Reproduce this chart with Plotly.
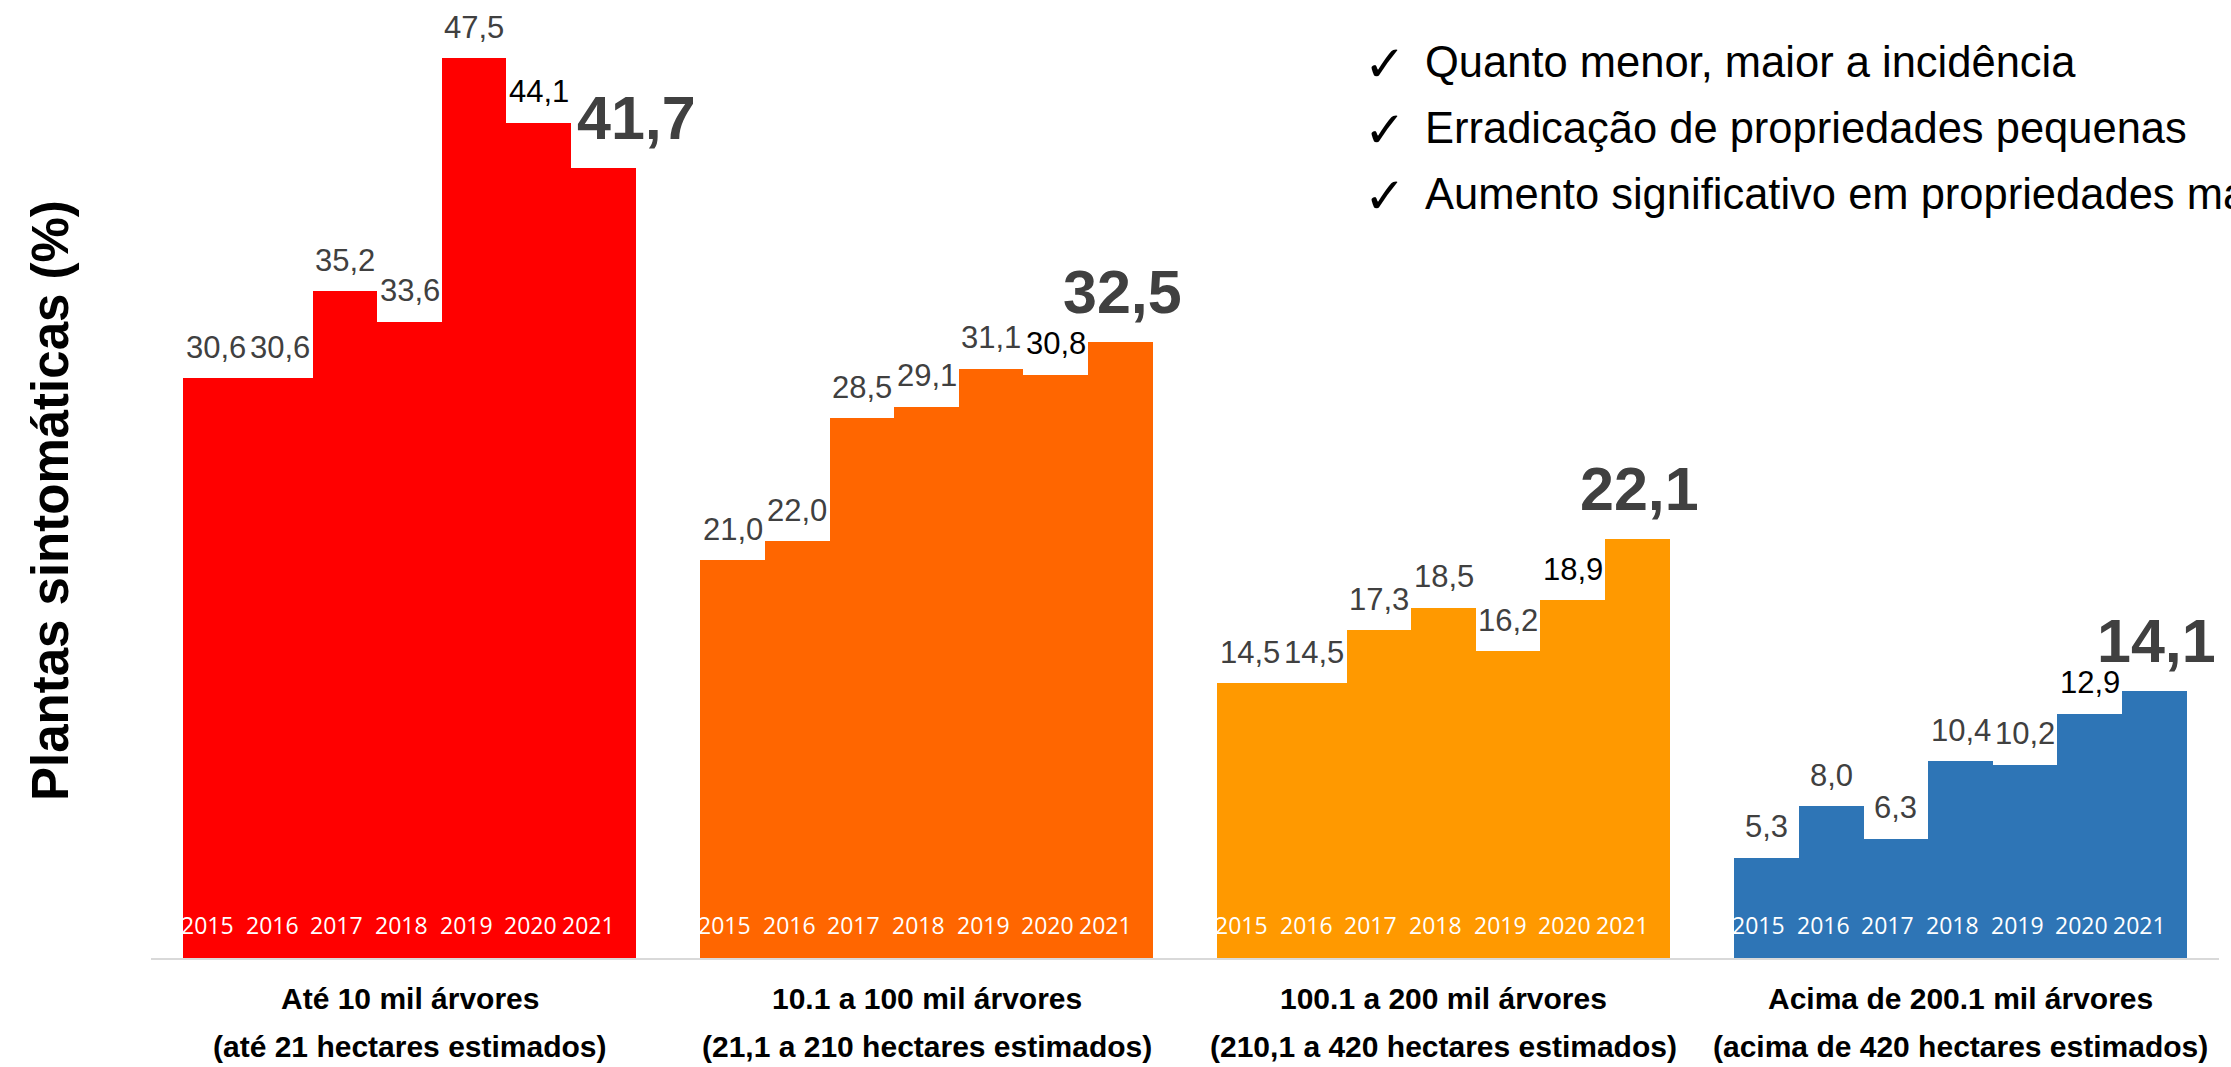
import plotly.graph_objects as go

# ---------------- data ----------------
years = ["2015", "2016", "2017", "2018", "2019", "2020", "2021"]
group_line1 = ["Até 10 mil árvores", "10.1 a 100 mil árvores",
               "100.1 a 200 mil árvores", "Acima de 200.1 mil árvores"]
group_line2 = ["(até 21 hectares estimados)", "(21,1 a 210 hectares estimados)",
               "(210,1 a 420 hectares estimados)", "(acima de 420 hectares estimados)"]
vals_g1 = [30.6, 30.6, 35.2, 33.6, 47.5, 44.1, 41.7]
vals_g2 = [21.0, 22.0, 28.5, 29.1, 31.1, 30.8, 32.5]
vals_g3 = [14.5, 14.5, 17.3, 18.5, 16.2, 18.9, 22.1]
vals_g4 = [5.3, 8.0, 6.3, 10.4, 10.2, 12.9, 14.1]
group_values = [vals_g1, vals_g2, vals_g3, vals_g4]
group_colors = ["#FF0000", "#FF6600", "#FF9900", "#2E75B6"]
y_title = "Plantas sintomáticas (%)"
notes = ["Quanto menor, maior a incidência",
         "Erradicação de propriedades pequenas",
         "Aumento significativo em propriedades maiores"]

# ---------------- layout constants ----------------
W, H = 2231, 1067
ML, MR, MT, MB = 151, 12, 0, 109
PW, PH = W - ML - MR, H - MT - MB
PX_PER_UNIT = 18.94
YMAX = PH / PX_PER_UNIT

SANS = "Liberation Sans, Arial, sans-serif"
YEARF = "Open Sans, Lato, sans-serif"
GRAY = "#404040"


def paper_x(px):
    return (px - ML) / PW


def paper_y(py):
    return (MT + PH - py) / PH


def fmt(v):
    return f"{v:.1f}".replace(".", ",")


fig = go.Figure()
annotations = []

for g, vals in enumerate(group_values):
    xs = [g * 8 + j for j in range(len(years))]
    fig.add_trace(go.Bar(
        x=xs, y=vals, width=1.0,
        marker=dict(color=group_colors[g], line=dict(width=0)),
        hoverinfo="skip", showlegend=False,
    ))
    n = len(years)
    for j, (x, v) in enumerate(zip(xs, vals)):
        last = j == n - 1
        if last:
            annotations.append(dict(
                x=x, y=v, xref="x", yref="y", text=fmt(v), showarrow=False,
                xanchor="center", yanchor="middle", yshift=50,
                xshift=33 if g == 0 else 2,
                font=dict(family=SANS, size=61, color=GRAY, weight="bold"),
            ))
        else:
            color = "#000000" if j == n - 2 else GRAY
            annotations.append(dict(
                x=x, y=v, xref="x", yref="y", text=fmt(v), showarrow=False,
                xanchor="center", yanchor="middle", yshift=31,
                font=dict(family=SANS, size=31, color=color),
            ))
        # year label inside bar
        annotations.append(dict(
            x=x, y=0, xref="x", yref="y", text=years[j], showarrow=False,
            xanchor="center", yanchor="middle", yshift=33,
            xshift=-15 if last else -8,
            font=dict(family=YEARF, size=23, color="#FFFFFF"),
        ))
    xc = g * 8 + (n - 1) / 2
    annotations.append(dict(
        x=xc, y=0, xref="x", yref="y", text=group_line1[g], showarrow=False,
        xanchor="center", yanchor="middle", yshift=-40,
        font=dict(family=SANS, size=30, color="#000000", weight="bold"),
    ))
    annotations.append(dict(
        x=xc, y=0, xref="x", yref="y", text=group_line2[g], showarrow=False,
        xanchor="center", yanchor="middle", yshift=-88,
        font=dict(family=SANS, size=30, color="#000000", weight="bold"),
    ))

# y-axis title
annotations.append(dict(
    x=paper_x(50), y=paper_y(501), xref="paper", yref="paper",
    text=y_title, showarrow=False, textangle=-90,
    xanchor="center", yanchor="middle",
    font=dict(family=SANS, size=51, color="#000000", weight="bold"),
))

# check-list notes
for i, t in enumerate(notes):
    cy = 62 + i * 66
    annotations.append(dict(
        x=paper_x(1362), y=paper_y(cy + 2), xref="paper", yref="paper",
        text="✓", showarrow=False, xanchor="left", yanchor="middle",
        font=dict(family="DejaVu Sans, sans-serif", size=50, color="#000000"),
    ))
    annotations.append(dict(
        x=paper_x(1423), y=paper_y(cy), xref="paper", yref="paper",
        text=t, showarrow=False, xanchor="left", yanchor="middle",
        font=dict(family=SANS, size=43.5, color="#000000"),
    ))

fig.update_layout(
    width=W, height=H,
    margin=dict(l=ML, r=MR, t=MT, b=MB, pad=0),
    paper_bgcolor="#FFFFFF", plot_bgcolor="#FFFFFF",
    barmode="overlay", bargap=0,
    xaxis=dict(range=[-1, 31], showline=True, linecolor="#D9D9D9", linewidth=2,
               showticklabels=False, ticks="", showgrid=False, zeroline=False,
               fixedrange=True),
    yaxis=dict(range=[0, YMAX], visible=False, showgrid=False, zeroline=False,
               fixedrange=True),
    annotations=annotations,
    showlegend=False,
)

fig.write_html(
    "out.html",
    config={"displayModeBar": False},
    post_script="document.body.style.margin='0';document.body.style.overflow='hidden';",
)
